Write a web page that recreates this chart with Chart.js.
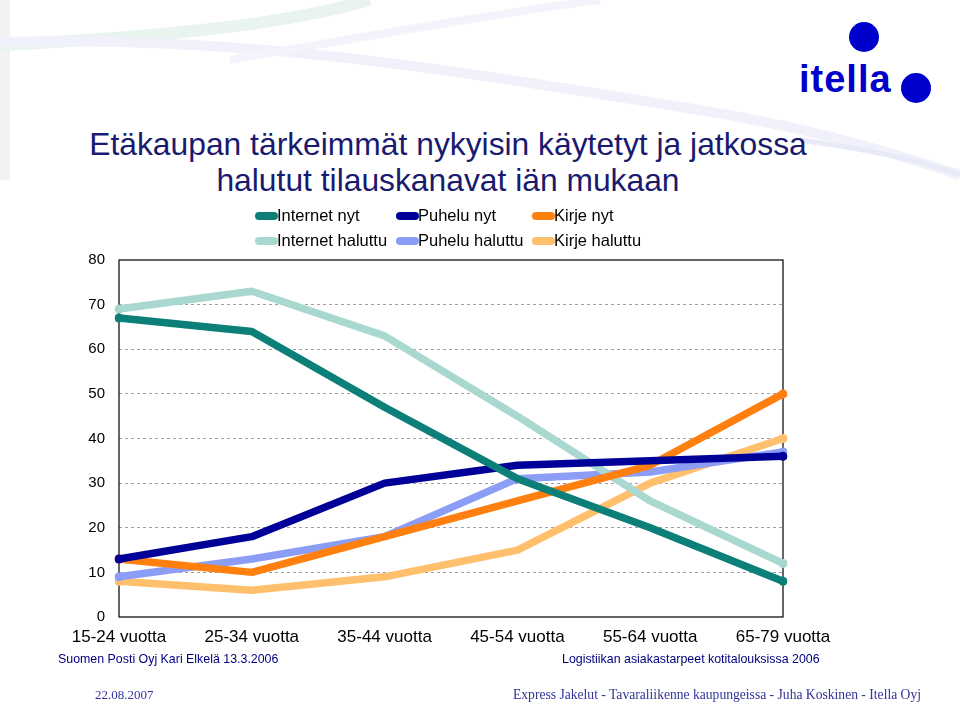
<!DOCTYPE html>
<html>
<head>
<meta charset="utf-8">
<script src="https://cdn.jsdelivr.net/npm/chart.js@4/dist/chart.umd.min.js"></script>
<style>
  html, body { margin: 0; padding: 0; background: #fff; }
  #page { position: relative; width: 960px; height: 707px; overflow: hidden; font-family: "Liberation Sans", Arial, sans-serif; }
  #bg { position: absolute; left: 0; top: 0; }
  #chart-wrap { position: absolute; left: 0; top: 0; width: 960px; height: 707px; }
  .title { position: absolute; left: 0; width: 896px; text-align: center; color: #1a1a6e; font-size: 31.8px; white-space: nowrap; }
  .logo { position: absolute; left: 799px; top: 58px; color: #0000cc; font-weight: bold; font-size: 38px; letter-spacing: 1px; }
  .dot { position: absolute; width: 30px; height: 30px; border-radius: 50%; background: #0000cc; }
  .foot { position: absolute; color: #000080; font-size: 12.4px; white-space: nowrap; }
  .foot2 { position: absolute; color: #333399; font-family: "Liberation Serif", serif; font-size: 13.6px; white-space: nowrap; }
</style>
</head>
<body>
<div id="page">
  <svg id="bg" width="960" height="707">
    <rect x="0" y="0" width="10" height="180" fill="#f2f2f2"/>
    <path d="M0,45 C200,35 300,20 370,0" stroke="#eaf4ee" stroke-width="12" fill="none"/>
    <path d="M0,42 C250,35 450,70 700,110 C820,130 900,155 960,175" stroke="#f0f1fa" stroke-width="10" fill="none"/>
    <path d="M230,60 C400,30 520,10 600,0" stroke="#f3f4fb" stroke-width="8" fill="none"/>
    <path d="M800,140 C870,150 920,160 960,175" stroke="#e9eaf7" stroke-width="5" fill="none"/>
  </svg>

  <div class="logo">itella</div>
  <div class="dot" style="left:849px; top:22px;"></div>
  <div class="dot" style="left:901px; top:73px;"></div>

  <div class="title" style="top:126px;">Etäkaupan tärkeimmät nykyisin käytetyt ja jatkossa</div>
  <div class="title" style="top:162px;">halutut tilauskanavat iän mukaan</div>

  <div id="chart-wrap"><canvas id="chart"></canvas></div>

  <div class="foot" style="left:58px; top:652px;">Suomen Posti Oyj Kari Elkelä 13.3.2006</div>
  <div class="foot" style="left:562px; top:652px;">Logistiikan asiakastarpeet kotitalouksissa 2006</div>
  <div class="foot2" style="left:95px; top:687px; font-size:13px;">22.08.2007</div>
  <div class="foot2" style="left:513px; top:687px;">Express Jakelut - Tavaraliikenne kaupungeissa - Juha Koskinen - Itella Oyj</div>
</div>

<script>
const categories = ['15-24 vuotta', '25-34 vuotta', '35-44 vuotta', '45-54 vuotta', '55-64 vuotta', '65-79 vuotta'];

const internetNyt = [67, 64, 47, 31, 20, 8];
const puheluNyt = [13, 18, 30, 34, 35, 36];
const kirjeNyt = [13, 10, 18, 26, 34, 50];
const internetHaluttu = [69, 73, 63, 45, 26, 12];
const puheluHaluttu = [9, 13, 18, 31, 32.5, 37];
const kirjeHaluttu = [8, 6, 9, 15, 30, 40];

const seriesNames = ['Internet nyt', 'Puhelu nyt', 'Kirje nyt', 'Internet haluttu', 'Puhelu haluttu', 'Kirje haluttu'];
const seriesColors = ['#0c7f78', '#000099', '#ff7f0f', '#a9d8d0', '#8c9df5', '#ffc06e'];
const seriesData = [internetNyt, puheluNyt, kirjeNyt, internetHaluttu, puheluHaluttu, kirjeHaluttu];

const yMin = 0;
const yMax = 80;
const yStep = 10;

// legend in 3 columns, 2 rows like the original slide
const gridLegend = {
    id: 'gridLegend',
    afterDraw(chart) {
        const ctx = chart.ctx;
        const colX = [255, 396, 532];
        const rowY = [216, 241];
        ctx.save();
        ctx.font = '16.5px "Liberation Sans", Arial, sans-serif';
        ctx.textBaseline = 'middle';
        chart.data.datasets.forEach(function (ds, i) {
            const x = colX[i % 3];
            const y = rowY[Math.floor(i / 3)];
            ctx.strokeStyle = ds.borderColor;
            ctx.lineWidth = 8;
            ctx.lineCap = 'round';
            ctx.beginPath();
            ctx.moveTo(x + 4, y);
            ctx.lineTo(x + 19, y);
            ctx.stroke();
            ctx.fillStyle = '#000';
            ctx.fillText(ds.label, x + 22, y);
        });
        ctx.restore();
    }
};

// black frame round the plot area
const plotFrame = {
    id: 'plotFrame',
    beforeDatasetsDraw(chart) {
        const a = chart.chartArea;
        const ctx = chart.ctx;
        ctx.save();
        ctx.strokeStyle = '#000';
        ctx.lineWidth = 1.2;
        ctx.strokeRect(a.left, a.top, a.right - a.left, a.bottom - a.top);
        ctx.restore();
    }
};

document.addEventListener('DOMContentLoaded', function () {
    const ctx = document.getElementById('chart').getContext('2d');

    new Chart(ctx, {
        type: 'line',
        data: {
            labels: categories,
            datasets: seriesNames.map(function (name, i) {
                return {
                    label: name,
                    data: seriesData[i],
                    borderColor: seriesColors[i],
                    backgroundColor: seriesColors[i],
                    borderWidth: 7.5,
                    borderCapStyle: 'round',
                    borderJoinStyle: 'round',
                    // only the two ends get a dot
                    pointRadius: function (c) {
                        return (c.dataIndex === 0 || c.dataIndex === categories.length - 1) ? 4.5 : 0;
                    },
                    pointBorderWidth: 0,
                    pointHoverRadius: 0,
                    tension: 0
                };
            })
        },
        options: {
            responsive: true,
            maintainAspectRatio: false,
            animation: false,
            layout: {
                padding: { left: 70, right: 177, top: 260, bottom: 50 }
            },
            scales: {
                x: {
                    offset: false,
                    grid: { display: false, drawTicks: false },
                    border: { display: false },
                    ticks: {
                        color: '#000',
                        padding: 10,
                        maxRotation: 0,
                        font: { family: '"Liberation Sans", Arial, sans-serif', size: 17 }
                    },
                    afterFit: function (s) { s.height = 40; }
                },
                y: {
                    min: yMin,
                    max: yMax,
                    grid: {
                        drawTicks: false,
                        color: function (c) {
                            return (c.tick.value === yMin || c.tick.value === yMax) ? 'rgba(0,0,0,0)' : '#a0a0a0';
                        },
                        lineWidth: 1
                    },
                    border: { display: false, dash: [3, 3] },
                    ticks: {
                        stepSize: yStep,
                        color: '#000',
                        padding: 14,
                        font: { family: '"Liberation Sans", Arial, sans-serif', size: 15 }
                    },
                    afterFit: function (s) { s.width = 49; }
                }
            },
            plugins: {
                legend: { display: false },
                tooltip: { enabled: false }
            }
        },
        plugins: [plotFrame, gridLegend]
    });
});
</script>
</body>
</html>
